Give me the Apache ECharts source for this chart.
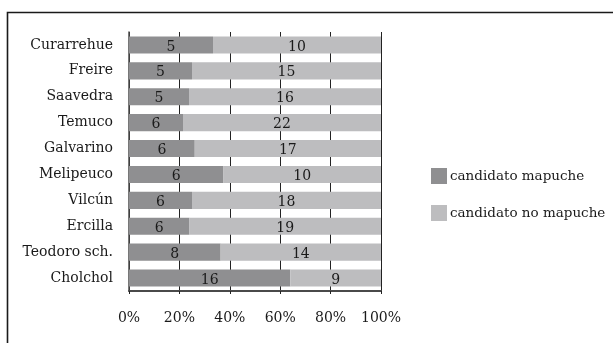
<!DOCTYPE html>
<html>
<head>
<meta charset="utf-8">
<script src="https://cdn.jsdelivr.net/npm/echarts@6/dist/echarts.min.js"></script>
<style>
  html, body { margin: 0; padding: 0; background: #fff; }
  #chart { width: 613px; height: 343px; }
</style>
</head>
<body>
<div id="chart"></div>
<script>
// Municipalities, top to bottom
const comunas = ['Curarrehue', 'Freire', 'Saavedra', 'Temuco', 'Galvarino',
                 'Melipeuco', 'Vilcún', 'Ercilla', 'Teodoro sch.', 'Cholchol'];
// Number of candidates per group
const mapuche   = [5, 5, 5, 6, 6, 6, 6, 6, 8, 16];
const noMapuche = [10, 15, 16, 22, 17, 10, 18, 19, 14, 9];
const xTicks = ['0%', '20%', '40%', '60%', '80%', '100%'];

const FONT = 'DejaVu Serif';
const DARK = '#8f8f91';
const LIGHT = '#bdbdbf';

// Bars are drawn as each group's share of the municipality total
const share = (arr, i) => arr[i] / (mapuche[i] + noMapuche[i]) * 100;
const mapucheShare = mapuche.map((v, i) => share(mapuche, i));
const noMapucheShare = noMapuche.map((v, i) => share(noMapuche, i));

const chart = echarts.init(document.getElementById('chart'));

const labelStyle = {
  show: true,
  position: 'inside',
  color: '#1a1a1a',
  fontFamily: FONT,
  fontSize: 14,
  offset: [0, 2]
};

chart.setOption({
  animation: false,
  backgroundColor: '#fff',
  textStyle: { fontFamily: FONT },
  graphic: [{
    type: 'rect',
    shape: { x: 7.5, y: 12.5, width: 700, height: 400 },
    style: { fill: 'none', stroke: '#1a1a1a', lineWidth: 1.6 },
    silent: true
  }],
  legend: {
    orient: 'vertical',
    left: 426,
    top: 163,
    itemWidth: 16,
    itemHeight: 16,
    itemGap: 21,
    icon: 'rect',
    textStyle: { fontFamily: FONT, fontSize: 13.5, color: '#1a1a1a', padding: [0, 0, 0, -2] },
    data: ['candidato mapuche', 'candidato no mapuche']
  },
  grid: { left: 129, right: 232, top: 32, bottom: 52, containLabel: false },
  xAxis: {
    type: 'value',
    min: 0,
    max: 100,
    interval: 20,
    axisLine: { show: true, lineStyle: { color: '#4a4a4a', width: 2 } },
    axisTick: { show: true, length: 3, lineStyle: { color: '#222', width: 1 } },
    splitLine: { show: true, lineStyle: { color: '#222', width: 1 } },
    axisLabel: {
      margin: 20,
      fontFamily: FONT,
      fontSize: 14,
      color: '#1a1a1a',
      formatter: v => xTicks[Math.round(v / 20)]
    }
  },
  yAxis: {
    type: 'category',
    inverse: true,
    data: comunas,
    axisLine: { show: true, lineStyle: { color: '#4a4a4a', width: 1.5 } },
    axisTick: { show: false },
    axisLabel: {
      margin: 16,
      fontFamily: FONT,
      fontSize: 14,
      color: '#1a1a1a'
    }
  },
  series: [
    {
      name: 'candidato mapuche',
      type: 'bar',
      stack: 'total',
      barCategoryGap: '34%',
      itemStyle: { color: DARK },
      label: Object.assign({}, labelStyle, { formatter: p => mapuche[p.dataIndex] }),
      data: mapucheShare
    },
    {
      name: 'candidato no mapuche',
      type: 'bar',
      stack: 'total',
      barCategoryGap: '34%',
      itemStyle: { color: LIGHT },
      label: Object.assign({}, labelStyle, { formatter: p => noMapuche[p.dataIndex] }),
      data: noMapucheShare
    }
  ]
});
</script>
</body>
</html>
